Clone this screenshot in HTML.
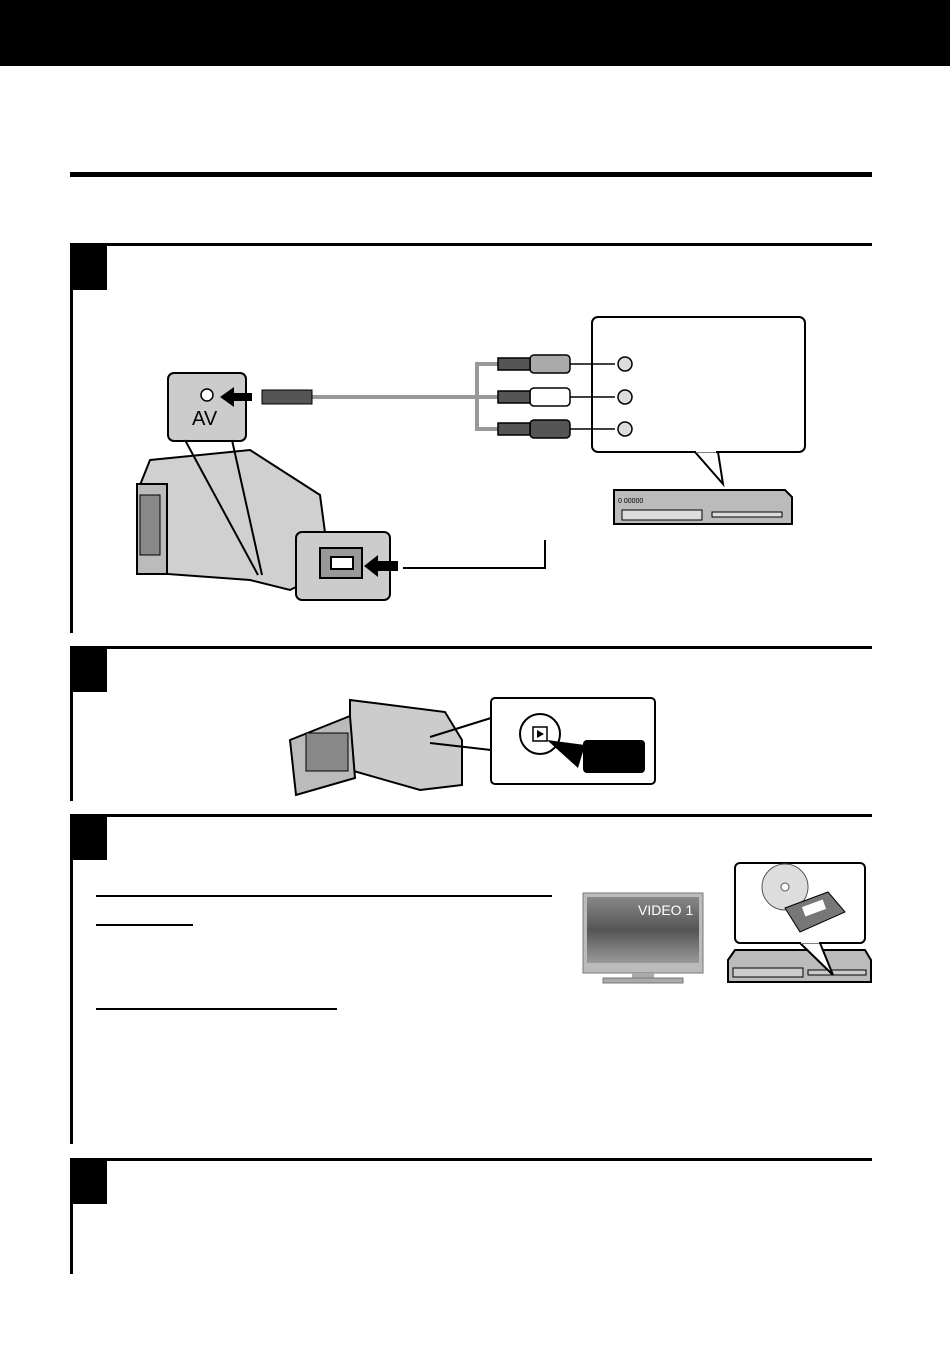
<!DOCTYPE html>
<html><head><meta charset="utf-8"><style>
html,body{margin:0;padding:0;background:#fff}
svg{display:block}
text{font-family:"Liberation Sans",sans-serif}
</style></head><body>
<svg width="950" height="1351" viewBox="0 0 950 1351" xmlns="http://www.w3.org/2000/svg">
<rect x="0" y="0" width="950" height="66" fill="#000"/>
<rect x="70" y="172" width="802" height="5" fill="#000"/>
<g fill="#000">
<rect x="70" y="243" width="802" height="3"/><rect x="72" y="246" width="35" height="44"/><rect x="70" y="246" width="3" height="387"/>
<rect x="70" y="646" width="802" height="3"/><rect x="72" y="649" width="35" height="43"/><rect x="70" y="649" width="3" height="152"/>
<rect x="70" y="814" width="802" height="3"/><rect x="72" y="817" width="35" height="43"/><rect x="70" y="817" width="3" height="327"/>
<rect x="70" y="1158" width="802" height="3"/><rect x="72" y="1161" width="35" height="43"/><rect x="70" y="1161" width="3" height="113"/>
<rect x="96" y="895" width="456" height="2"/><rect x="96" y="924" width="97" height="2"/><rect x="96" y="1008" width="241" height="2"/>
</g>
<!-- step1 illustration -->
<g stroke="#000" stroke-width="2">
<rect x="592" y="317" width="213" height="135" rx="6" fill="#fff"/>
<polygon points="695,452 723,484 718,452" fill="#fff"/>
<line x1="696" y1="451" x2="716" y2="451" stroke="#fff" stroke-width="3"/>
<path d="M614 490 L785 490 L792 497 L792 524 L614 524 Z" fill="#bbb"/>
<rect x="622" y="510" width="80" height="10" fill="#ddd" stroke-width="1"/>
<rect x="712" y="512" width="70" height="5" fill="#ddd" stroke-width="1"/>
</g>
<text x="618" y="503" font-size="7">0 00000</text>
<g fill="none" stroke="#999" stroke-width="4">
<path d="M312 397 L498 397"/><path d="M505 364 L477 364 L477 429 L505 429"/>
</g>
<g stroke="#000" stroke-width="1.5">
<rect x="530" y="355" width="40" height="18" rx="4" fill="#aaa"/>
<rect x="530" y="388" width="40" height="18" rx="4" fill="#fff"/>
<rect x="530" y="420" width="40" height="18" rx="4" fill="#555"/>
<rect x="498" y="358" width="32" height="12" fill="#555"/>
<rect x="498" y="391" width="32" height="12" fill="#555"/>
<rect x="498" y="423" width="32" height="12" fill="#555"/>
<line x1="570" y1="364" x2="615" y2="364"/><line x1="570" y1="397" x2="615" y2="397"/><line x1="570" y1="429" x2="615" y2="429"/>
<circle cx="625" cy="364" r="7" fill="#ddd"/><circle cx="625" cy="397" r="7" fill="#ddd"/><circle cx="625" cy="429" r="7" fill="#ddd"/>
</g>
<g stroke="#000" stroke-width="2">
<path d="M150 460 L250 450 L320 495 L330 570 L290 590 L250 580 L140 572 L138 490 Z" fill="#d0d0d0"/>
<rect x="137" y="484" width="30" height="90" fill="#bbb"/>
<rect x="140" y="495" width="20" height="60" fill="#888" stroke-width="1"/>
<rect x="168" y="373" width="78" height="68" rx="6" fill="#ccc"/>
<line x1="185" y1="440" x2="258" y2="575"/><line x1="232" y1="440" x2="262" y2="575"/>
<rect x="296" y="532" width="94" height="68" rx="6" fill="#ccc"/>
<rect x="320" y="548" width="42" height="30" fill="#999"/>
<rect x="331" y="557" width="22" height="12" fill="#fff"/>
<path d="M403 568 L430 568 L545 568 L545 540" fill="none"/>
</g>
<circle cx="207" cy="395" r="6" fill="#fff" stroke="#000" stroke-width="1.5"/>
<text x="192" y="425" font-size="20">AV</text>
<path d="M220 397 L234 387 L234 393 L252 393 L252 401 L234 401 L234 407 Z" fill="#000"/>
<rect x="262" y="390" width="50" height="14" fill="#555" stroke="#000"/>
<path d="M364 566 L378 555 L378 561 L398 561 L398 571 L378 571 L378 577 Z" fill="#000"/>
<!-- step2 illustration -->
<g stroke="#000" stroke-width="2">
<path d="M350 700 L445 712 L462 740 L462 785 L420 790 L350 770 Z" fill="#ccc"/>
<path d="M290 740 L350 716 L355 778 L296 795 Z" fill="#bbb"/>
<rect x="306" y="733" width="42" height="38" fill="#888" stroke-width="1"/>
<rect x="491" y="698" width="164" height="86" rx="4" fill="#fff"/>
<circle cx="540" cy="734" r="20" fill="#fff"/>
<line x1="430" y1="737" x2="491" y2="718"/><line x1="430" y1="743" x2="491" y2="750"/>
</g>
<rect x="533" y="727" width="14" height="14" fill="#fff" stroke="#000" stroke-width="1.5"/>
<path d="M537 730 L544 734 L537 738 Z" fill="#000"/>
<polygon points="547,740 585,745 578,768" fill="#000"/>
<rect x="583" y="740" width="62" height="33" rx="4" fill="#000"/>
<!-- step3 illustration -->
<defs><linearGradient id="g" x1="0" y1="0" x2="0" y2="1"><stop offset="0" stop-color="#888"/><stop offset=".5" stop-color="#555"/><stop offset="1" stop-color="#999"/></linearGradient></defs>
<rect x="583" y="893" width="120" height="80" fill="#bbb" stroke="#777"/>
<rect x="587" y="897" width="112" height="66" fill="url(#g)"/>
<text x="638" y="915" font-size="14" fill="#fff">VIDEO 1</text>
<rect x="632" y="973" width="22" height="6" fill="#aaa"/><rect x="603" y="978" width="80" height="5" fill="#aaa" stroke="#777"/>
<g stroke="#000" stroke-width="2">
<path d="M735 950 L865 950 L871 960 L871 982 L728 982 L728 960 Z" fill="#bbb"/>
<rect x="733" y="968" width="70" height="9" fill="#ccc" stroke-width="1"/>
<rect x="808" y="970" width="58" height="5" fill="#ccc" stroke-width="1"/>
<rect x="735" y="863" width="130" height="80" rx="5" fill="#fff"/>
<polygon points="800,943 833,975 820,943" fill="#fff"/>
<line x1="801" y1="942" x2="819" y2="942" stroke="#fff" stroke-width="3"/>
</g>
<circle cx="785" cy="887" r="23" fill="#ddd" stroke="#555"/>
<circle cx="785" cy="887" r="4" fill="#fff" stroke="#555"/>
<path d="M785 908 L828 892 L845 912 L800 932 Z" fill="#777" stroke="#000"/>
<rect x="803" y="903" width="22" height="10" fill="#fff" transform="rotate(-20 814 908)"/>
</svg>
</body></html>
